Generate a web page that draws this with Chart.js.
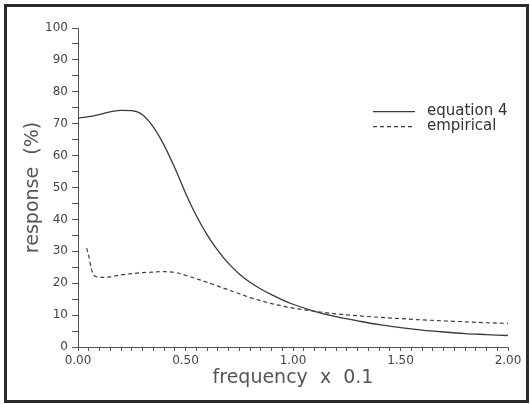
<!DOCTYPE html>
<html>
<head>
<meta charset="utf-8">
<script src="https://cdn.jsdelivr.net/npm/chart.js@4/dist/chart.umd.min.js"></script>
<style>
  body { margin: 0; background: #fff; }
  #frame { position: absolute; left: 4px; top: 4px; width: 525px; height: 399px;
           box-sizing: border-box; border: 3px solid #2a2a2a; }
  #responsechart { position: absolute; left: 0; top: 0; }
</style>
</head>
<body>
<div id="frame"></div>
<canvas id="responsechart" width="530" height="404"></canvas>
<script>
// frequency (x 0.1) and response (%)
var freqEq = [0, 0.05, 0.1, 0.15, 0.2, 0.25, 0.3, 0.35, 0.4, 0.45, 0.5, 0.55, 0.6, 0.65, 0.7,
    0.75, 0.8, 0.85, 0.9, 0.95, 1.0, 1.1, 1.2, 1.3, 1.4, 1.5, 1.6, 1.7, 1.8, 1.9, 2.0];
var respEq = [71.8, 72.2, 72.9, 73.7, 74.2, 74.1, 72.8, 69, 63.3, 56.2, 48.3, 41.2, 35.2, 30.3, 26.2,
    22.9, 20.3, 18.2, 16.4, 14.8, 13.4, 11.2, 9.5, 8.2, 7.0, 6.1, 5.3, 4.7, 4.2, 3.9, 3.6];

var freqEmp = [0.04, 0.05, 0.06, 0.07, 0.08, 0.1, 0.12, 0.15, 0.2, 0.25, 0.3, 0.35, 0.4, 0.45,
    0.5, 0.55, 0.6, 0.65, 0.7, 0.75, 0.8, 0.85, 0.9, 1.0, 1.1, 1.2, 1.3, 1.4, 1.5, 1.6, 1.7,
    1.8, 1.9, 2.0];
var respEmp = [31, 28.5, 25, 23, 22.2, 21.9, 21.8, 22.0, 22.6, 23.0, 23.3, 23.5, 23.6, 23.4,
    22.5, 21.4, 20.3, 19.1, 17.9, 16.7, 15.5, 14.5, 13.6, 12.2, 11.2, 10.4, 9.8, 9.3, 8.9, 8.5,
    8.2, 7.9, 7.6, 7.4];

var seriesLabels = ['equation 4', 'empirical'];
var xTickEvery = 0.5;   // labelled x ticks
var yTickEvery = 10;    // labelled y ticks

function toPoints(xs, ys) {
    return xs.map(function (x, i) { return { x: x, y: ys[i] }; });
}

// legend drawn inside the plot, as on the original
var insideLegend = {
    id: 'insideLegend',
    afterDraw: function (chart) {
        var ctx = chart.ctx;
        var area = chart.chartArea;
        var x0 = area.left + 0.686 * (area.right - area.left);
        var x1 = x0 + 42;
        var y0 = area.top + 0.262 * (area.bottom - area.top);
        ctx.save();
        ctx.font = '15px "DejaVu Sans"';
        ctx.textBaseline = 'middle';
        ctx.fillStyle = '#333';
        chart.data.datasets.forEach(function (ds, i) {
            var y = y0 + i * 15;
            ctx.strokeStyle = ds.borderColor;
            ctx.lineWidth = ds.borderWidth;
            ctx.setLineDash(ds.borderDash || []);
            ctx.beginPath();
            ctx.moveTo(x0, y);
            ctx.lineTo(x1, y);
            ctx.stroke();
            ctx.setLineDash([]);
            ctx.fillText(ds.label, x1 + 12, y);
        });
        ctx.restore();
    }
};

function initResponseChart() {
    var ctx = document.getElementById('responsechart').getContext('2d');
    var axisColor = '#555';
    var textColor = '#444';
    var chart = new Chart(ctx, {
        type: 'line',
        data: {
            datasets: [{
                label: seriesLabels[0],
                data: toPoints(freqEq, respEq),
                borderColor: '#3a3a3a',
                borderWidth: 1.3,
                pointRadius: 0,
                cubicInterpolationMode: 'monotone',
                fill: false
            }, {
                label: seriesLabels[1],
                data: toPoints(freqEmp, respEmp),
                borderColor: '#3a3a3a',
                borderWidth: 1.2,
                borderDash: [4, 3],
                pointRadius: 0,
                cubicInterpolationMode: 'monotone',
                fill: false
            }]
        },
        options: {
            responsive: false,
            animation: false,
            layout: { padding: { left: 0, right: 22, top: 28, bottom: 0 } },
            plugins: {
                legend: { display: false },
                tooltip: { enabled: false }
            },
            scales: {
                x: {
                    type: 'linear',
                    min: 0,
                    max: 2,
                    afterFit: function (scale) { scale.height = 57; },
                    grid: { drawOnChartArea: false, tickLength: 4, color: axisColor },
                    border: { color: axisColor, width: 1 },
                    ticks: {
                        stepSize: 0.05,
                        autoSkip: false,
                        maxRotation: 0,
                        padding: 3,
                        color: textColor,
                        font: { family: 'DejaVu Sans', size: 12 },
                        callback: function (v) {
                            var r = v / xTickEvery;
                            return Math.abs(r - Math.round(r)) < 1e-6 ? v.toFixed(2) : '';
                        }
                    },
                    title: {
                        display: true,
                        text: 'frequency  x  0.1',
                        color: '#555',
                        font: { family: 'DejaVu Sans', size: 19 },
                        padding: { top: 4, bottom: 15 }
                    }
                },
                y: {
                    min: 0,
                    max: 100,
                    afterFit: function (scale) { scale.width = 78; },
                    grid: { drawOnChartArea: false, tickLength: 6, color: axisColor },
                    border: { color: axisColor, width: 1 },
                    ticks: {
                        stepSize: 5,
                        autoSkip: false,
                        padding: 4,
                        color: textColor,
                        font: { family: 'DejaVu Sans', size: 12 },
                        callback: function (v) {
                            return v % yTickEvery === 0 ? String(v) : '';
                        }
                    },
                    title: {
                        display: true,
                        text: 'response  (%)',
                        color: '#555',
                        font: { family: 'DejaVu Sans', size: 19 },
                        padding: { top: 22, bottom: 0 }
                    }
                }
            }
        },
        plugins: [insideLegend]
    });
    return chart;
}

initResponseChart();
</script>
</body>
</html>
